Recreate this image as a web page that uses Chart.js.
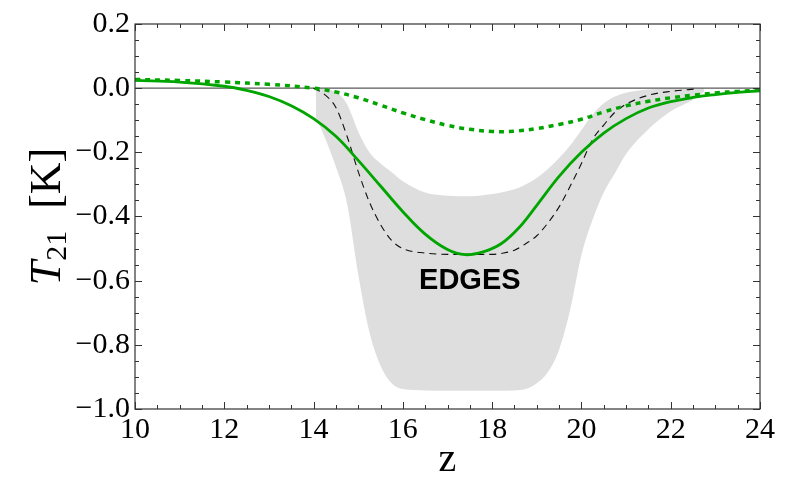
<!DOCTYPE html>
<html>
<head>
<meta charset="utf-8">
<script src="https://cdn.jsdelivr.net/npm/chart.js@4.4.1/dist/chart.umd.min.js"></script>
<style>
  html, body { margin: 0; padding: 0; background: #ffffff; }
  #wrap { width: 790px; height: 490px; }
</style>
</head>
<body>
<div id="wrap"><canvas id="c" width="790" height="490"></canvas></div>
<script>
// Model brightness temperature T21 (K) against redshift z
const zModel = [10, 11, 12, 12.5, 13, 13.5, 14, 14.5, 15, 15.5, 16, 16.5, 17, 17.4, 17.8, 18.2, 18.6, 19, 19.5, 20, 20.5, 21, 21.5, 22, 22.5, 23, 23.5, 24];
const tModel = [0.024, 0.019, 0.006, -0.007, -0.026, -0.055, -0.095, -0.15, -0.225, -0.305, -0.385, -0.455, -0.503, -0.519, -0.51, -0.485, -0.435, -0.365, -0.275, -0.2, -0.14, -0.095, -0.062, -0.042, -0.029, -0.02, -0.013, -0.008];

// Reference model (dotted)
const zReference = [10, 11, 12, 13, 14, 14.5, 15, 15.5, 16, 16.5, 17, 17.5, 18, 18.5, 19, 19.5, 20, 20.5, 21, 21.5, 22, 22.5, 23, 23.5, 24];
const tReference = [0.027, 0.024, 0.019, 0.012, 0.0, -0.012, -0.03, -0.053, -0.077, -0.098, -0.116, -0.128, -0.135, -0.134, -0.126, -0.113, -0.097, -0.074, -0.055, -0.041, -0.03, -0.022, -0.015, -0.01, -0.006];

// EDGES best-fit flattened profile (dashed)
const zEdgesFit = [14.0, 14.25, 14.5, 14.75, 15.0, 15.25, 15.5, 15.75, 16.0, 16.5, 17.0, 18.0, 18.25, 18.5, 18.75, 19.0, 19.25, 19.5, 19.75, 20.0, 20.25, 20.5, 20.75, 21.0, 21.5, 22.0, 22.6];
const tEdgesFit = [0.0, -0.02, -0.06, -0.15, -0.26, -0.355, -0.425, -0.475, -0.5, -0.514, -0.518, -0.518, -0.514, -0.505, -0.485, -0.46, -0.42, -0.37, -0.305, -0.235, -0.16, -0.115, -0.075, -0.05, -0.022, -0.01, -0.002];

// EDGES confidence band
const zEdgesBand = [14.05, 14.3, 14.5, 14.75, 15.0, 15.25, 15.5, 15.75, 16.0, 16.5, 17.0, 17.5, 18.0, 18.5, 18.75, 19.0, 19.25, 19.5, 19.75, 20.0, 20.25, 20.5, 20.75, 21.0, 21.5, 22.0, 22.5, 22.75];
const tEdgesUpper = [0.0, -0.004, -0.012, -0.05, -0.135, -0.2, -0.235, -0.262, -0.29, -0.325, -0.335, -0.337, -0.33, -0.315, -0.3, -0.28, -0.252, -0.218, -0.178, -0.13, -0.082, -0.047, -0.026, -0.014, -0.004, -0.001, 0.0, 0.0];
const tEdgesLower = [-0.09, -0.17, -0.245, -0.36, -0.58, -0.76, -0.865, -0.92, -0.938, -0.942, -0.943, -0.943, -0.943, -0.942, -0.938, -0.92, -0.885, -0.815, -0.69, -0.52, -0.41, -0.325, -0.265, -0.205, -0.128, -0.072, -0.036, -0.01];

// Axis ticks
const xTickValues = [10, 12, 14, 16, 18, 20, 22, 24];
const xTickLabels = ['10', '12', '14', '16', '18', '20', '22', '24'];
const yTickValues = [0.2, 0.0, -0.2, -0.4, -0.6, -0.8, -1.0];
const yTickLabels = ['0.2', '0.0', '\u22120.2', '\u22120.4', '\u22120.6', '\u22120.8', '\u22121.0'];

const GREEN = 'rgb(0,165,0)';
const BAND = '#dedede';
const SERIF = '"Liberation Serif", "Times New Roman", serif';

const zip = (xs, ys) => xs.map((x, i) => ({ x: x, y: ys[i] }));
const labelFor = (values, labels, v) => {
  const i = values.findIndex(t => Math.abs(t - v) < 1e-9);
  return i >= 0 ? labels[i] : '';
};

// Frame with inward ticks, zero line, annotation and axis titles
const framePlugin = {
  id: 'frame',
  afterDatasetDraw(chart, args) {
    if (args.index !== 3) return;
    const { ctx, chartArea: a, scales: { y } } = chart;
    const py = y.getPixelForValue(0);
    ctx.save();
    ctx.strokeStyle = '#5a5a5a';
    ctx.lineWidth = 1.2;
    ctx.beginPath();
    ctx.moveTo(a.left, py);
    ctx.lineTo(a.right, py);
    ctx.stroke();
    ctx.restore();
  },
  afterDatasetsDraw(chart) {
    const { ctx, chartArea: a, scales: { x, y } } = chart;
    ctx.save();
    ctx.strokeStyle = '#333';
    ctx.lineWidth = 1.2;
    ctx.strokeRect(a.left, a.top, a.right - a.left, a.bottom - a.top);

    ctx.lineWidth = 1;
    ctx.beginPath();
    for (let k = 0; k <= 28; k++) {
      const v = 10 + k * 0.5;
      const len = (k % 4 === 0) ? 7 : 4;
      const px = Math.round(x.getPixelForValue(v)) + 0.5;
      ctx.moveTo(px, a.bottom); ctx.lineTo(px, a.bottom - len);
      ctx.moveTo(px, a.top); ctx.lineTo(px, a.top + len);
    }
    for (let k = 0; k <= 24; k++) {
      const v = -1 + k * 0.05;
      const len = (k % 4 === 0) ? 7 : 4;
      const py = Math.round(y.getPixelForValue(v)) + 0.5;
      ctx.moveTo(a.left, py); ctx.lineTo(a.left + len, py);
      ctx.moveTo(a.right, py); ctx.lineTo(a.right - len, py);
    }
    ctx.stroke();

    // EDGES annotation
    ctx.fillStyle = '#000';
    ctx.font = 'bold 29px "Liberation Sans", Arial, sans-serif';
    ctx.textAlign = 'center';
    ctx.textBaseline = 'middle';
    ctx.fillText('EDGES', x.getPixelForValue(17.5), y.getPixelForValue(-0.6));
    ctx.restore();
  },
  afterDraw(chart) {
    const { ctx, chartArea: a } = chart;
    ctx.save();
    ctx.fillStyle = '#000';
    // x title
    ctx.font = '40px ' + SERIF;
    ctx.textAlign = 'center';
    ctx.textBaseline = 'alphabetic';
    ctx.fillText('z', (a.left + a.right) / 2, 471);

    // y title: italic T with subscript 21, then [K]
    const cy = (a.top + a.bottom) / 2;
    const base = 60;
    const fMain = '44px ' + SERIF;
    const fItal = 'italic 44px ' + SERIF;
    const fSub = '30px ' + SERIF;
    ctx.font = fItal; const wT = ctx.measureText('T').width;
    ctx.font = fSub; const wS = ctx.measureText('21').width;
    ctx.font = fMain; const wK = ctx.measureText('  [K]').width;
    const total = wT + wS + wK;
    ctx.translate(base, cy);
    ctx.rotate(-Math.PI / 2);
    ctx.textAlign = 'left';
    let cx = -total / 2;
    ctx.font = fItal; ctx.fillText('T', cx, 0); cx += wT;
    ctx.font = fSub; ctx.fillText('21', cx, 6); cx += wS;
    ctx.font = fMain; ctx.fillText('  [K]', cx, 0);
    ctx.restore();
  }
};

new Chart(document.getElementById('c'), {
  type: 'line',
  data: {
    datasets: [
      { data: zip(zModel, tModel), borderColor: GREEN, borderWidth: 2.8, pointRadius: 0,
        tension: 0.4, fill: false, order: 1 },
      { data: zip(zReference, tReference), borderColor: GREEN, borderWidth: 3.5, borderDash: [5, 5],
        borderCapStyle: 'butt', pointRadius: 0, tension: 0.4, fill: false, order: 2 },
      { data: zip(zEdgesFit, tEdgesFit), borderColor: '#111', borderWidth: 1.1, borderDash: [7, 5],
        pointRadius: 0, cubicInterpolationMode: 'monotone', fill: false, order: 3 },
      { data: zip(zEdgesBand, tEdgesUpper), borderWidth: 0, borderColor: 'rgba(0,0,0,0)', backgroundColor: BAND,
        pointRadius: 0, cubicInterpolationMode: 'monotone', fill: '+1', order: 4 },
      { data: zip(zEdgesBand, tEdgesLower), borderWidth: 0, borderColor: 'rgba(0,0,0,0)',
        pointRadius: 0, cubicInterpolationMode: 'monotone', fill: false, order: 5 }
    ]
  },
  options: {
    responsive: false,
    animation: false,
    events: [],
    layout: { padding: { top: 24, right: 30, left: 0, bottom: 0 } },
    plugins: { legend: { display: false }, tooltip: { enabled: false } },
    scales: {
      x: {
        type: 'linear', min: 10, max: 24,
        afterBuildTicks: s => { s.ticks = xTickValues.map(v => ({ value: v })); },
        afterFit: s => { s.height = 81; },
        grid: { display: false, drawTicks: false },
        border: { display: false },
        ticks: {
          autoSkip: false, maxRotation: 0, padding: 3, color: '#000',
          font: { family: SERIF, size: 30 },
          callback: v => labelFor(xTickValues, xTickLabels, v)
        }
      },
      y: {
        type: 'linear', min: -1.0, max: 0.2,
        afterBuildTicks: s => { s.ticks = yTickValues.slice().reverse().map(v => ({ value: v })); },
        afterFit: s => { s.width = 135; },
        grid: { display: false, drawTicks: false },
        border: { display: false },
        ticks: {
          autoSkip: false, padding: 5, color: '#000',
          font: { family: SERIF, size: 30 },
          callback: v => labelFor(yTickValues, yTickLabels, v)
        }
      }
    }
  },
  plugins: [framePlugin]
});
</script>
</body>
</html>
